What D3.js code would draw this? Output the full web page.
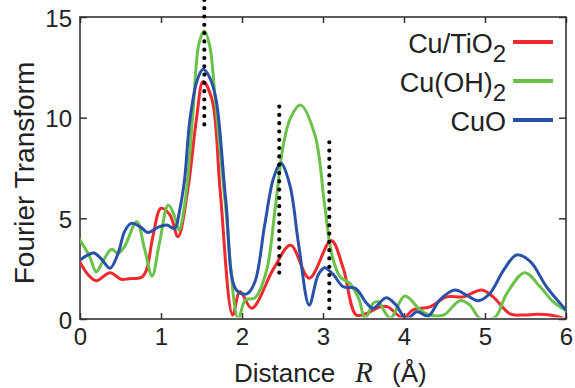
<!DOCTYPE html>
<html>
<head>
<meta charset="utf-8">
<script src="https://cdn.jsdelivr.net/npm/d3@7"></script>
<style>
  html, body { margin: 0; padding: 0; background: #fff; }
  svg { display: block; font-family: "Liberation Sans", Arial, sans-serif; }
</style>
</head>
<body>
<svg id="chart" width="575" height="388"></svg>
<script>
// ---- Data ----
const distanceTicks = [0, 1, 2, 3, 4, 5, 6];
const ftTicks = [0, 5, 10, 15];
const seriesNames = ["Cu/TiO", "Cu(OH)", "CuO"];
const seriesSubs = ["2", "2", ""];
const seriesColors = ["#ee2a2e", "#6cc14a", "#2a51a8"];

const cuTiO2R = [0, 0.1, 0.2, 0.37, 0.51, 0.6, 0.76, 0.82, 0.9, 1.0, 1.11, 1.21, 1.33, 1.44, 1.52, 1.63, 1.73, 1.885, 1.975, 2.12, 2.39, 2.6, 2.83, 3.1, 3.25, 3.41, 3.54, 3.7, 3.8, 3.99, 4.11, 4.32, 4.53, 4.73, 4.96, 5.1, 5.31, 5.47, 5.64, 5.8, 6.0];
const cuTiO2V = [2.82, 2.2, 1.9, 2.3, 1.97, 2.0, 2.07, 2.43, 4.1, 5.5, 5.17, 4.09, 6.4, 10.0, 11.8, 10.9, 6.4, 0.2, 1.36, 0.53, 2.5, 3.66, 2.03, 3.9, 2.52, 0.2, 0.28, 0.6, 0.6, 0.05, 0.45, 0.6, 1.1, 1.1, 1.44, 1.1, 0.25, 0.2, 0.23, 0.2, 0.0];

const cuOH2R = [0, 0.12, 0.2, 0.28, 0.39, 0.47, 0.55, 0.7, 0.8, 0.89, 0.98, 1.09, 1.17, 1.22, 1.3, 1.39, 1.47, 1.535, 1.6, 1.67, 1.79, 1.955, 2.04, 2.16, 2.3, 2.41, 2.51, 2.6, 2.72, 2.9, 3.02, 3.11, 3.21, 3.33, 3.44, 3.52, 3.62, 3.68, 3.83, 4.01, 4.2, 4.32, 4.49, 4.69, 4.81, 4.94, 5.12, 5.27, 5.49, 5.68, 5.84, 6.0];
const cuOH2V = [3.92, 3.1, 2.35, 2.85, 3.46, 3.26, 3.6, 4.83, 3.43, 2.14, 3.76, 5.66, 5.08, 4.42, 5.9, 10.0, 13.7, 14.3, 13.6, 10.9, 5.9, 0.0, 0.94, 1.05, 2.35, 5.5, 8.64, 10.0, 10.63, 9.14, 5.66, 3.18, 2.1, 1.77, 1.03, 0.03, 0.78, 0.86, 0.05, 1.14, 0.45, 0.2, 0.2, 0.91, 0.7, 0.03, 0.07, 1.27, 2.3, 1.6, 0.86, 0.41];

const cuOR = [0, 0.17, 0.26, 0.37, 0.47, 0.55, 0.63, 0.74, 0.84, 0.96, 1.07, 1.17, 1.23, 1.29, 1.36, 1.45, 1.52, 1.6, 1.68, 1.8, 1.93, 2.06, 2.16, 2.28, 2.39, 2.48, 2.59, 2.7, 2.83, 2.94, 3.02, 3.13, 3.25, 3.4, 3.54, 3.62, 3.78, 3.9, 4.03, 4.16, 4.3, 4.44, 4.63, 4.77, 4.92, 5.06, 5.23, 5.39, 5.56, 5.76, 6.0];
const cuOV = [2.93, 3.28, 3.0, 2.52, 3.26, 4.34, 4.75, 4.59, 4.3, 4.55, 4.67, 4.5, 5.4, 6.9, 10.0, 11.9, 12.4, 12.0, 10.9, 5.9, 1.44, 1.25, 1.85, 4.67, 7.0, 7.73, 6.66, 3.68, 0.7, 2.19, 2.55, 2.19, 1.6, 1.52, 0.78, 0.53, 1.06, 0.7, 0.0, 0.36, 0.15, 0.94, 1.44, 1.19, 0.91, 1.27, 2.43, 3.18, 2.85, 1.6, 0.45];

// dotted marker lines
const markerR = [1.535, 2.46, 3.078];
const markerTop = [15.85, 10.55, 8.78];
const markerBottom = [9.6, 2.22, 0.45];

// ---- Layout ----
const svg = d3.select("#chart");
const plotLeft = 80, plotRight = 566, plotTop = 17, plotBottom = 319;
const x = d3.scaleLinear().domain([0, 6]).range([plotLeft, plotRight]);
const y = d3.scaleLinear().domain([0, 15]).range([plotBottom, plotTop]);
const textColor = "#222";
const axisColor = "#333";

// clip for curves
svg.append("defs").append("clipPath").attr("id", "plotclip")
  .append("rect").attr("x", plotLeft).attr("y", plotTop - 3)
  .attr("width", plotRight - plotLeft).attr("height", plotBottom - plotTop + 1.5);

// axes (inward ticks)
const gBottom = svg.append("g").attr("transform", `translate(0,${plotBottom})`)
  .call(d3.axisBottom(x).tickValues(distanceTicks).tickSize(-6).tickPadding(9).tickFormat(d3.format("d")));
const gTop = svg.append("g").attr("transform", `translate(0,${plotTop})`)
  .call(d3.axisTop(x).tickValues(distanceTicks).tickSize(-6).tickFormat(""));
const gLeft = svg.append("g").attr("transform", `translate(${plotLeft},0)`)
  .call(d3.axisLeft(y).tickValues(ftTicks).tickSize(-7).tickPadding(8).tickFormat(d3.format("d")));
const gRight = svg.append("g").attr("transform", `translate(${plotRight},0)`)
  .call(d3.axisRight(y).tickValues(ftTicks).tickSize(-7).tickFormat(""));

[gBottom, gTop, gLeft, gRight].forEach(g => {
  g.select(".domain").remove();
  g.selectAll(".tick line").attr("stroke", axisColor).attr("stroke-width", 1.5);
  g.selectAll(".tick text").attr("fill", textColor).attr("font-size", 24)
    .attr("font-family", "'Liberation Sans', Arial, sans-serif");
});
gLeft.selectAll(".tick text").attr("dy", "0.38em");

// frame
svg.append("rect").attr("x", plotLeft).attr("y", plotTop)
  .attr("width", plotRight - plotLeft).attr("height", plotBottom - plotTop)
  .attr("fill", "none").attr("stroke", axisColor).attr("stroke-width", 1.6);

// curves
const series = [
  { r: cuTiO2R, v: cuTiO2V },
  { r: cuOH2R, v: cuOH2V },
  { r: cuOR, v: cuOV }
];
const line = d3.line()
  .x(d => x(d[0])).y(d => y(d[1]))
  .curve(d3.curveCatmullRom.alpha(0.5));
const gCurves = svg.append("g").attr("clip-path", "url(#plotclip)");
series.forEach((s, i) => {
  const pts = s.r.map((r, k) => [r, s.v[k]]);
  gCurves.append("path").datum(pts)
    .attr("d", line)
    .attr("fill", "none")
    .attr("stroke", seriesColors[i])
    .attr("stroke-width", 3)
    .attr("stroke-linejoin", "round")
    .attr("stroke-linecap", "round");
});

// dotted marker lines
markerR.forEach((r, i) => {
  svg.append("line")
    .attr("x1", x(r)).attr("x2", x(r))
    .attr("y1", y(markerTop[i])).attr("y2", y(markerBottom[i]))
    .attr("stroke", "#000").attr("stroke-width", 4.2)
    .attr("stroke-linecap", "round")
    .attr("stroke-dasharray", "0 8.3");
});

// legend
const legendRows = [53, 92, 131];
seriesNames.forEach((name, i) => {
  const t = svg.append("text")
    .attr("x", 506).attr("y", legendRows[i])
    .attr("text-anchor", "end")
    .attr("fill", textColor)
    .attr("font-size", 27);
  t.append("tspan").text(name);
  if (seriesSubs[i]) {
    t.append("tspan").attr("font-size", 24).attr("dy", 9).text(seriesSubs[i]);
  }
  svg.append("line")
    .attr("x1", 513).attr("x2", 553)
    .attr("y1", legendRows[i] - 11).attr("y2", legendRows[i] - 11)
    .attr("stroke", seriesColors[i]).attr("stroke-width", 4);
});

// axis titles
svg.append("text")
  .attr("transform", `translate(34,173) rotate(-90)`)
  .attr("text-anchor", "middle")
  .attr("fill", textColor)
  .attr("font-size", 28)
  .text("Fourier Transform");

const xt = svg.append("g").attr("fill", textColor);
xt.append("text").attr("x", 234).attr("y", 382).attr("font-size", 26).text("Distance");
xt.append("text").attr("x", 355).attr("y", 382).attr("font-size", 29)
  .attr("font-family", "'Liberation Serif', 'Times New Roman', serif")
  .attr("font-style", "italic").text("R");
xt.append("text").attr("x", 392).attr("y", 382).attr("font-size", 26).text("(Å)");
</script>
</body>
</html>
